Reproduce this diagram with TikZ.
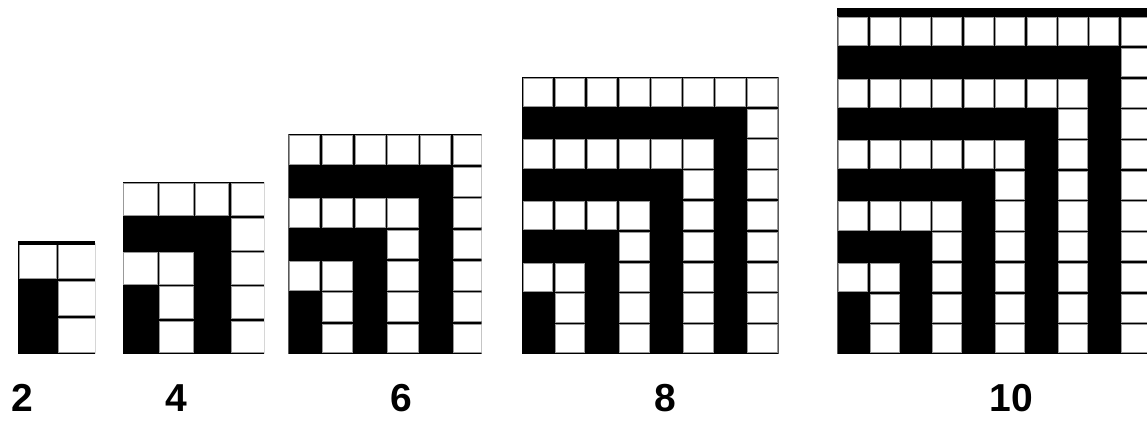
\documentclass[tikz,border=0pt]{standalone}
\usepackage{fontspec}
\setmainfont{Liberation Sans}
\newcommand{\cellinset}{1.25}
% #1 n, #2 x0, #3 cell width, #4 cell height, #5 right clip x, #6 bottom y
\newcommand{\Lgrid}[6]{%
  \begin{scope}
    \clip (#2,#6) rectangle ({#5},{#6+(#1+1)*#4});
    \fill[black] (#2,#6) rectangle ({#2+#1*#3},{#6+(#1+1)*#4});
    \pgfmathtruncatemacro\lastcol{#1-1}
    \foreach \i in {0,...,#1} {
      \foreach \j in {0,...,\lastcol} {
        \pgfmathtruncatemacro\blk{((mod(\j,2)==0) && (\i<=\j+1)) || ((mod(\i,2)==1) && (\j<=\i-1)) ? 1 : 0}
        \ifnum\blk=0
          \fill[cellfill] ({#2+\j*#3+\cellinset},{#6+\i*#4+\cellinset})
            rectangle ({#2+(\j+1)*#3-\cellinset},{#6+(\i+1)*#4-\cellinset});
        \fi
      }
    }
  \end{scope}
}
\tikzset{
  cellfill/.style={fill=white, draw=black!40, line width=0.6pt},
  numlabel/.style={font=\fontsize{39}{39}\selectfont\bfseries, anchor=base, inner sep=0pt}
}
\begin{document}
\begin{tikzpicture}[x=1pt,y=1pt]
  \useasboundingbox (0,0) rectangle (1147,427);
  \fill[white] (0,0) rectangle (1147,427);
  % n = 2 (open on the right)
  \Lgrid{2}{18}{39.3}{37}{95}{73}
  \fill[black] (18,182) rectangle (95,186);
  % n = 4 (open on the right)
  \Lgrid{4}{122.5}{35.8}{34.3}{264}{73}
  % n = 6 (open on the right)
  \Lgrid{6}{288.3}{32.7}{31.36}{481.7}{73}
  % n = 8 (closed)
  \Lgrid{8}{521.7}{32.1}{30.8}{778.5}{73}
  % n = 10 (cut by the page edge)
  \Lgrid{10}{837.3}{31.4}{30.7}{1147}{73}
  \fill[black] (837.3,411) rectangle (1147,418.7);
  % labels
  \node[numlabel] (l2) at (22,15) {2};
  \node[numlabel] (l4) at (176,15) {4};
  \node[numlabel] (l6) at (401,15) {6};
  \node[numlabel] (l8) at (665,15) {8};
  \node[numlabel] (l10) at (1011,15) {10};
\end{tikzpicture}
\end{document}
